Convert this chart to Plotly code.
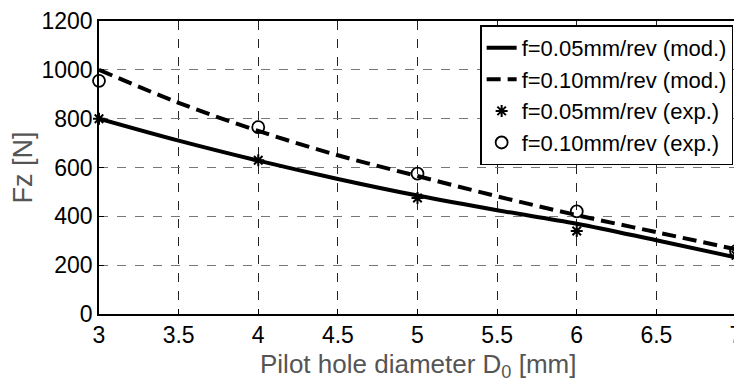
import plotly.graph_objects as go

x_mod = [3, 3.5, 4, 4.5, 5, 5.5, 6, 6.5, 7]
fz_mod_005 = [800, 710, 628, 553, 485, 425, 370, 302, 232]
fz_mod_010 = [1000, 865, 750, 650, 565, 482, 405, 335, 265]

x_exp = [3, 4, 5, 6, 7]
fz_exp_005 = [800, 630, 475, 340, 240]
fz_exp_010 = [955, 765, 575, 420, 258]

x_ticks = [3, 3.5, 4, 4.5, 5, 5.5, 6, 6.5, 7]
x_ticklabels = ["3", "3.5", "4", "4.5", "5", "5.5", "6", "6.5", "7"]
y_ticks = [0, 200, 400, 600, 800, 1000, 1200]

font = "Liberation Sans, Arial, sans-serif"
fs = 23

fig = go.Figure()
fig.add_trace(go.Scatter(x=x_mod, y=fz_mod_005, mode="lines", name="f=0.05mm/rev (mod.)",
                         line=dict(color="black", width=4, shape="spline"), cliponaxis=False))
fig.add_trace(go.Scatter(x=x_mod, y=fz_mod_010, mode="lines", name="f=0.10mm/rev (mod.)",
                         line=dict(color="black", width=4, dash="14px,7px", shape="spline"),
                         cliponaxis=False))
fig.add_trace(go.Scatter(x=x_exp, y=fz_exp_005, mode="markers", name="f=0.05mm/rev (exp.)",
                         marker=dict(symbol="asterisk-open", size=10, color="black",
                                     line=dict(color="black", width=2)), cliponaxis=False))
fig.add_trace(go.Scatter(x=x_exp, y=fz_exp_010, mode="markers", name="f=0.10mm/rev (exp.)",
                         marker=dict(symbol="circle-open", size=12, color="black",
                                     line=dict(color="black", width=1.8)), cliponaxis=False))

fig.update_layout(
    width=734, height=371,
    margin=dict(l=91, r=6, t=13, b=65, autoexpand=False),
    paper_bgcolor="white", plot_bgcolor="white",
    font=dict(family=font, size=fs, color="black"),
    showlegend=True,
    legend=dict(x=0.9955, y=0.985, xanchor="right", yanchor="top",
                bgcolor="white", bordercolor="black", borderwidth=1.5,
                font=dict(size=22, color="black"), tracegroupgap=0,
                itemwidth=30),
    xaxis=dict(range=[3, 7], tickvals=x_ticks, ticktext=x_ticklabels,
               automargin=False, ticklabeloverflow="allow",
               showgrid=True, gridcolor="#222222", griddash="dash", gridwidth=1,
               showline=True, linecolor="black", linewidth=1.5, mirror=True,
               ticks="inside", ticklen=5, tickcolor="black", zeroline=False,
               tickfont=dict(size=fs, color="black")),
    yaxis=dict(range=[0, 1200], tickvals=y_ticks,
               automargin=False,
               showgrid=True, gridcolor="#777777", griddash="dash", gridwidth=1,
               showline=True, linecolor="black", linewidth=1.5, mirror=True,
               ticks="inside", ticklen=5, tickcolor="black", zeroline=False,
               tickfont=dict(size=fs, color="black"),
               title=dict(text="Fz [N]", font=dict(size=27, color="#555555"), standoff=2)),
    annotations=[dict(text="Pilot hole diameter D<sub>0</sub> [mm]", xref="paper", yref="paper",
                      x=0.5, y=-0.112, xanchor="center", yanchor="top", showarrow=False,
                      font=dict(size=26, color="#555555"))],
)

fig.write_html("out.html")
